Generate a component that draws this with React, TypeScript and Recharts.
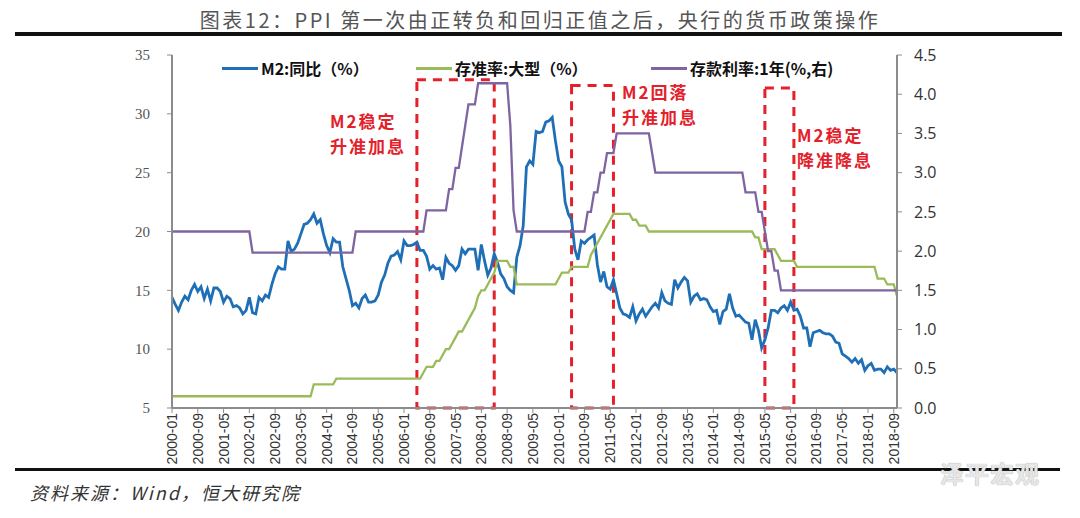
import { LineChart, Line, XAxis, YAxis, ReferenceArea } from 'recharts'

const START_YEAR = 2000

// M2 同比 (%), monthly from 2000-01 to 2018-10
const m2Growth = [
  14.4, 13.8, 13.3, 14.0, 14.5, 14.2, 15.0, 15.5, 14.9, 15.3, 14.3, 15.1, // 2000
  14.1, 15.2, 15.2, 14.9, 14.0, 14.5, 14.3, 13.6, 13.7, 13.5, 13.0, 13.3, // 2001
  14.4, 13.1, 13.0, 14.4, 14.1, 14.6, 14.4, 15.5, 16.4, 17.0, 16.8, 16.8, // 2002
  19.2, 18.3, 18.5, 19.0, 19.8, 20.6, 20.7, 21.0, 21.5, 20.7, 21.0, 19.8, // 2003
  18.8, 18.2, 19.4, 19.1, 19.1, 17.0, 16.0, 15.0, 13.7, 13.9, 13.5, 14.3, // 2004
  14.6, 14.0, 14.0, 14.1, 14.6, 15.7, 16.3, 17.3, 17.9, 18.0, 18.3, 17.6, // 2005
  19.2, 18.8, 18.8, 18.9, 19.1, 18.4, 18.4, 17.9, 16.8, 17.1, 16.8, 16.9, // 2006
  15.9, 17.8, 17.3, 17.1, 16.7, 17.1, 18.5, 18.1, 18.5, 18.5, 18.5, 16.7, // 2007
  18.9, 17.5, 16.3, 16.9, 18.1, 17.4, 16.4, 16.0, 15.3, 15.0, 14.8, 17.8, // 2008
  18.8, 20.5, 25.5, 26.0, 25.7, 28.5, 28.4, 28.5, 29.3, 29.4, 29.7, 27.7, // 2009
  26.0, 25.5, 22.5, 21.5, 21.0, 18.5, 17.6, 19.2, 19.0, 19.3, 19.5, 19.7, // 2010
  17.2, 15.7, 16.6, 15.3, 15.1, 15.9, 14.7, 13.5, 13.0, 12.9, 12.7, 13.6, // 2011
  12.4, 13.0, 13.4, 12.8, 13.2, 13.6, 13.9, 13.5, 14.8, 14.1, 13.9, 13.8, // 2012
  15.9, 15.2, 15.7, 16.1, 15.8, 14.0, 14.5, 14.7, 14.2, 14.3, 14.2, 13.6, // 2013
  13.2, 13.3, 12.1, 13.2, 13.4, 14.7, 13.5, 12.8, 12.9, 12.6, 12.3, 12.2, // 2014
  10.8, 12.5, 11.6, 10.1, 10.8, 11.8, 13.3, 13.3, 13.1, 13.5, 13.7, 13.3, // 2015
  14.0, 13.3, 13.4, 12.8, 11.8, 11.8, 10.2, 11.4, 11.5, 11.6, 11.4, 11.3, // 2016
  11.3, 11.1, 10.6, 10.5, 9.6, 9.4, 9.2, 8.9, 9.2, 8.8, 9.1, 8.2, // 2017
  8.6, 8.8, 8.2, 8.3, 8.3, 8.0, 8.5, 8.2, 8.3, 8.0, // 2018
]

// 存准率:大型 (%)
const reserveRatio = [
  6, 6, 6, 6, 6, 6, 6, 6, 6, 6, 6, 6, // 2000
  6, 6, 6, 6, 6, 6, 6, 6, 6, 6, 6, 6, // 2001
  6, 6, 6, 6, 6, 6, 6, 6, 6, 6, 6, 6, // 2002
  6, 6, 6, 6, 6, 6, 6, 6, 7, 7, 7, 7, // 2003
  7, 7, 7, 7.5, 7.5, 7.5, 7.5, 7.5, 7.5, 7.5, 7.5, 7.5, // 2004
  7.5, 7.5, 7.5, 7.5, 7.5, 7.5, 7.5, 7.5, 7.5, 7.5, 7.5, 7.5, // 2005
  7.5, 7.5, 7.5, 7.5, 7.5, 7.5, 8, 8.5, 8.5, 8.5, 9, 9, // 2006
  9.5, 10, 10, 10.5, 11, 11.5, 11.5, 12, 12.5, 13, 13.5, 14.5, // 2007
  15, 15, 15.5, 16, 16.5, 17.5, 17.5, 17.5, 17.5, 17, 17, 15.5, // 2008
  15.5, 15.5, 15.5, 15.5, 15.5, 15.5, 15.5, 15.5, 15.5, 15.5, 15.5, 15.5, // 2009
  16, 16.5, 16.5, 16.5, 17, 17, 17, 17, 17, 17, 18, 18.5, // 2010
  19, 19.5, 20, 20.5, 21, 21.5, 21.5, 21.5, 21.5, 21.5, 21.5, 21, // 2011
  21, 20.5, 20.5, 20.5, 20, 20, 20, 20, 20, 20, 20, 20, // 2012
  20, 20, 20, 20, 20, 20, 20, 20, 20, 20, 20, 20, // 2013
  20, 20, 20, 20, 20, 20, 20, 20, 20, 20, 20, 20, // 2014
  20, 19.5, 19.5, 18.5, 18.5, 18.5, 18.5, 18.5, 18, 17.5, 17.5, 17.5, // 2015
  17.5, 17.5, 17, 17, 17, 17, 17, 17, 17, 17, 17, 17, // 2016
  17, 17, 17, 17, 17, 17, 17, 17, 17, 17, 17, 17, // 2017
  17, 17, 17, 16, 16, 16, 15.5, 15.5, 15.5, 14.5, // 2018
]

// 存款利率:1年 (%, 右)
const depositRate = [
  2.25, 2.25, 2.25, 2.25, 2.25, 2.25, 2.25, 2.25, 2.25, 2.25, 2.25, 2.25, // 2000
  2.25, 2.25, 2.25, 2.25, 2.25, 2.25, 2.25, 2.25, 2.25, 2.25, 2.25, 2.25, // 2001
  2.25, 1.98, 1.98, 1.98, 1.98, 1.98, 1.98, 1.98, 1.98, 1.98, 1.98, 1.98, // 2002
  1.98, 1.98, 1.98, 1.98, 1.98, 1.98, 1.98, 1.98, 1.98, 1.98, 1.98, 1.98, // 2003
  1.98, 1.98, 1.98, 1.98, 1.98, 1.98, 1.98, 1.98, 1.98, 2.25, 2.25, 2.25, // 2004
  2.25, 2.25, 2.25, 2.25, 2.25, 2.25, 2.25, 2.25, 2.25, 2.25, 2.25, 2.25, // 2005
  2.25, 2.25, 2.25, 2.25, 2.25, 2.25, 2.25, 2.52, 2.52, 2.52, 2.52, 2.52, // 2006
  2.52, 2.52, 2.79, 2.79, 3.06, 3.06, 3.33, 3.6, 3.87, 3.87, 3.87, 4.14, // 2007
  4.14, 4.14, 4.14, 4.14, 4.14, 4.14, 4.14, 4.14, 4.14, 3.6, 2.52, 2.25, // 2008
  2.25, 2.25, 2.25, 2.25, 2.25, 2.25, 2.25, 2.25, 2.25, 2.25, 2.25, 2.25, // 2009
  2.25, 2.25, 2.25, 2.25, 2.25, 2.25, 2.25, 2.25, 2.25, 2.5, 2.5, 2.75, // 2010
  2.75, 3, 3, 3.25, 3.25, 3.25, 3.5, 3.5, 3.5, 3.5, 3.5, 3.5, // 2011
  3.5, 3.5, 3.5, 3.5, 3.5, 3.25, 3, 3, 3, 3, 3, 3, // 2012
  3, 3, 3, 3, 3, 3, 3, 3, 3, 3, 3, 3, // 2013
  3, 3, 3, 3, 3, 3, 3, 3, 3, 3, 2.75, 2.75, // 2014
  2.75, 2.75, 2.5, 2.5, 2.25, 2, 2, 1.75, 1.75, 1.5, 1.5, 1.5, // 2015
  1.5, 1.5, 1.5, 1.5, 1.5, 1.5, 1.5, 1.5, 1.5, 1.5, 1.5, 1.5, // 2016
  1.5, 1.5, 1.5, 1.5, 1.5, 1.5, 1.5, 1.5, 1.5, 1.5, 1.5, 1.5, // 2017
  1.5, 1.5, 1.5, 1.5, 1.5, 1.5, 1.5, 1.5, 1.5, 1.5, // 2018
]

const months = m2Growth.map(
  (_, i) => `${START_YEAR + Math.floor(i / 12)}-${String((i % 12) + 1).padStart(2, '0')}`
)

const leftTicks = [5, 10, 15, 20, 25, 30, 35]
const rightTicks = [0, 0.5, 1, 1.5, 2, 2.5, 3, 3.5, 4, 4.5]

// highlighted periods (dashed boxes)
const boxes = [
  { from: '2006-05', to: '2008-05', top: 32.9 },
  { from: '2010-05', to: '2011-06', top: 32.4 },
  { from: '2015-05', to: '2016-02', top: 32.2 },
]

const data = months.map((month, i) => ({
  month,
  m2: m2Growth[i],
  rrr: reserveRatio[i],
  rate: depositRate[i],
}))

const BLUE = '#1f6fb6'
const GREEN = '#9bbb59'
const PURPLE = '#7f64a2'
const RED = '#e3212b'
const AXIS = '#8c8c8c'

const cjk = '"Noto Sans CJK SC", "Noto Sans", sans-serif'

function MonthTick(props: any) {
  const { x, y, payload } = props
  return (
    <g transform={`translate(${x},${y})`}>
      <text
        transform="rotate(-90)"
        textAnchor="end"
        dy="0.36em"
        fontSize={14}
        fontFamily="Liberation Sans, Arial, sans-serif"
        fill="#333"
      >
        {payload.value}
      </text>
    </g>
  )
}

function LegendItem({ left, color, label }: { left: number; color: string; label: string }) {
  return (
    <div style={{ position: 'absolute', left, top: 57, display: 'flex', alignItems: 'center', height: 22 }}>
      <div style={{ width: 36, height: 3, background: color, marginRight: 3 }} />
      <span style={{ fontFamily: cjk, fontWeight: 700, fontSize: 16, color: '#111', whiteSpace: 'nowrap' }}>
        {label}
      </span>
    </div>
  )
}

function Note({ left, top, lines }: { left: number; top: number; lines: string[] }) {
  return (
    <div
      style={{
        position: 'absolute',
        left,
        top,
        fontFamily: cjk,
        fontWeight: 700,
        fontSize: 17,
        lineHeight: '25px',
        letterSpacing: 2,
        color: RED,
        whiteSpace: 'nowrap',
      }}
    >
      {lines.map((l) => (
        <div key={l}>{l}</div>
      ))}
    </div>
  )
}

export default function App() {
  return (
    <div
      style={{
        position: 'fixed',
        left: 0,
        top: 0,
        width: 1080,
        height: 518,
        background: '#fff',
        overflow: 'hidden',
      }}
    >
      <div
        style={{
          position: 'absolute',
          left: 0,
          width: 1080,
          top: 5,
          textAlign: 'center',
          fontFamily: cjk,
          fontSize: 20,
          letterSpacing: 2.5,
          color: '#555',
          paddingLeft: 0,
        }}
      >
        图表12：PPI 第一次由正转负和回归正值之后，央行的货币政策操作
      </div>
      <div style={{ position: 'absolute', left: 15, top: 32, width: 1047, height: 4, background: '#111' }} />

      <LineChart
        width={1080}
        height={518}
        data={data}
        margin={{ top: 55, right: 123, bottom: 50, left: 0 }}
      >
        <XAxis
          dataKey="month"
          interval={7}
          height={60}
          tickSize={5}
          tickMargin={0}
          tick={<MonthTick />}
          axisLine={{ stroke: AXIS, strokeWidth: 2 }}
          tickLine={{ stroke: AXIS }}
        />
        <YAxis
          yAxisId="left"
          width={172}
          domain={[5, 35]}
          ticks={leftTicks}
          tickSize={5}
          tickMargin={17}
          axisLine={{ stroke: AXIS, strokeWidth: 2 }}
          tickLine={{ stroke: AXIS }}
          tick={{ fill: '#555', fontSize: 15, fontFamily: 'Liberation Serif, serif' }}
        />
        <YAxis
          yAxisId="right"
          orientation="right"
          width={60}
          domain={[0, 4.5]}
          ticks={rightTicks}
          tickFormatter={(v: number) => v.toFixed(1)}
          tickSize={5}
          tickMargin={12}
          axisLine={{ stroke: AXIS, strokeWidth: 2 }}
          tickLine={{ stroke: AXIS }}
          tick={{ fill: '#333', fontSize: 16, fontFamily: '"Open Sans", sans-serif' }}
        />
        <Line
          yAxisId="left"
          dataKey="m2"
          type="linear"
          stroke={BLUE}
          strokeWidth={2.8}
          dot={false}
          isAnimationActive={false}
        />
        <Line
          yAxisId="left"
          dataKey="rrr"
          type="linear"
          stroke={GREEN}
          strokeWidth={2.3}
          dot={false}
          isAnimationActive={false}
        />
        <Line
          yAxisId="right"
          dataKey="rate"
          type="linear"
          stroke={PURPLE}
          strokeWidth={2.3}
          dot={false}
          isAnimationActive={false}
        />
        {boxes.map((b) => (
          <ReferenceArea
            key={b.from}
            yAxisId="left"
            x1={b.from}
            x2={b.to}
            y1={5}
            y2={b.top}
            fill="none"
            fillOpacity={0}
            stroke={RED}
            strokeWidth={3}
            strokeDasharray="9 7"
            ifOverflow="visible"
          />
        ))}
      </LineChart>

      <LegendItem left={222} color={BLUE} label="M2:同比（%）" />
      <LegendItem left={416} color={GREEN} label="存准率:大型（%）" />
      <LegendItem left={651} color={PURPLE} label="存款利率:1年(%,右)" />

      <Note left={330} top={108} lines={['M2稳定', '升准加息']} />
      <Note left={622} top={79} lines={['M2回落', '升准加息']} />
      <Note left={797} top={122} lines={['M2稳定', '降准降息']} />

      <div style={{ position: 'absolute', left: 15, top: 468, width: 1045, height: 3, background: '#111' }} />
      <div
        style={{
          position: 'absolute',
          left: 30,
          top: 479,
          fontFamily: cjk,
          fontStyle: 'italic',
          fontSize: 18,
          letterSpacing: 2,
          color: '#333',
        }}
      >
        资料来源：Wind，恒大研究院
      </div>
      <div
        style={{
          position: 'absolute',
          left: 940,
          top: 455,
          fontFamily: cjk,
          fontWeight: 700,
          fontSize: 24,
          color: '#e6e6e6',
          letterSpacing: 1,
          textShadow: '0 0 1px #999',
        }}
      >
        泽平宏观
      </div>
    </div>
  )
}
